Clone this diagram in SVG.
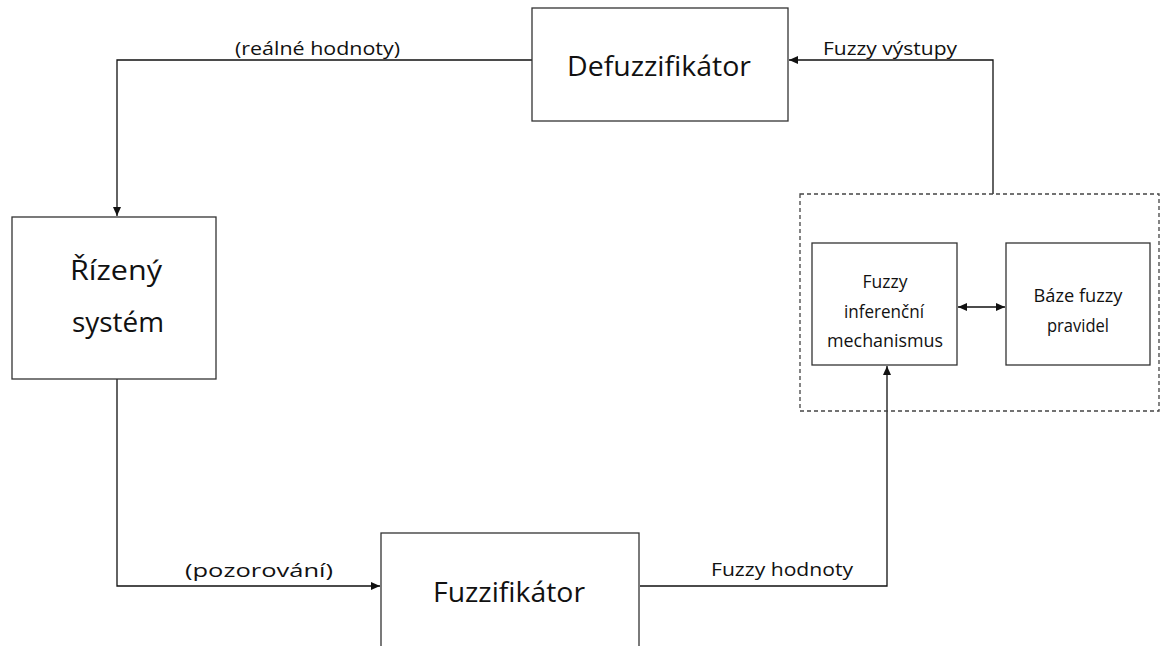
<svg xmlns="http://www.w3.org/2000/svg" width="1164" height="646" viewBox="0 0 1164 646">
<style>
.box{fill:#fff;stroke:#333;stroke-width:1.3}
.dash{fill:none;stroke:#444;stroke-width:1.3;stroke-dasharray:4 3}
.con{fill:none;stroke:#111;stroke-width:1.3}
text{font-family:"Open Sans","Noto Sans",sans-serif;fill:#111;text-anchor:middle}
.big{font-size:27px}
.sm{font-size:19px}
.lbl{font-size:19px}
</style>
<defs>
<marker id="ah" markerUnits="userSpaceOnUse" markerWidth="10" markerHeight="8" refX="9" refY="4" orient="auto-start-reverse">
<path d="M0,0 L9,4 L0,8 z" fill="#111"/>
</marker>
</defs>
<rect width="1164" height="646" fill="#fff"/>
<g id="connectors">
<polyline class="con" points="532,60 117,60 117,216" marker-end="url(#ah)"/>
<polyline class="con" points="117,379 117,586 380,586" marker-end="url(#ah)"/>
<polyline class="con" points="640,586 887,586 887,366" marker-end="url(#ah)"/>
<line class="con" x1="958" y1="307" x2="1005" y2="307" marker-start="url(#ah)" marker-end="url(#ah)"/>
<polyline class="con" points="993,194 993,60 789,60" marker-end="url(#ah)"/>
<text class="lbl" x="317.5" y="55" textLength="165" lengthAdjust="spacingAndGlyphs">(reálné hodnoty)</text>
<text class="lbl" x="890" y="55" textLength="134" lengthAdjust="spacingAndGlyphs">Fuzzy výstupy</text>
<text class="lbl" x="259" y="577" textLength="148" lengthAdjust="spacingAndGlyphs">(pozorování)</text>
<text class="lbl" x="782" y="576" textLength="142" lengthAdjust="spacingAndGlyphs">Fuzzy hodnoty</text>
</g>
<g id="fuzzy-system">
<rect class="dash" x="800" y="194" width="359" height="217"/>
</g>
<g id="defuzzifikator">
<rect class="box" x="532" y="8" width="256" height="113"/>
<text class="big" x="659" y="76" textLength="184" lengthAdjust="spacingAndGlyphs">Defuzzifikátor</text>
</g>
<g id="rizeny-system">
<rect class="box" x="12" y="217" width="204" height="162"/>
<text class="big" x="116" y="280" textLength="92" lengthAdjust="spacingAndGlyphs">Řízený</text>
<text class="big" x="118" y="332" textLength="92" lengthAdjust="spacingAndGlyphs">systém</text>
</g>
<g id="fuzzifikator">
<rect class="box" x="381" y="533" width="258" height="130"/>
<text class="big" x="509" y="602" textLength="152" lengthAdjust="spacingAndGlyphs">Fuzzifikátor</text>
</g>
<g id="inferencni">
<rect class="box" x="812" y="243" width="145" height="122"/>
<text class="sm" x="885" y="288" textLength="45" lengthAdjust="spacingAndGlyphs">Fuzzy</text>
<text class="sm" x="884" y="318" textLength="80" lengthAdjust="spacingAndGlyphs">inferenční</text>
<text class="sm" x="885" y="347" textLength="116" lengthAdjust="spacingAndGlyphs">mechanismus</text>
</g>
<g id="baze">
<rect class="box" x="1006" y="243" width="144" height="122"/>
<text class="sm" x="1078" y="302" textLength="89" lengthAdjust="spacingAndGlyphs">Báze fuzzy</text>
<text class="sm" x="1078" y="332" textLength="62" lengthAdjust="spacingAndGlyphs">pravidel</text>
</g>
</svg>
